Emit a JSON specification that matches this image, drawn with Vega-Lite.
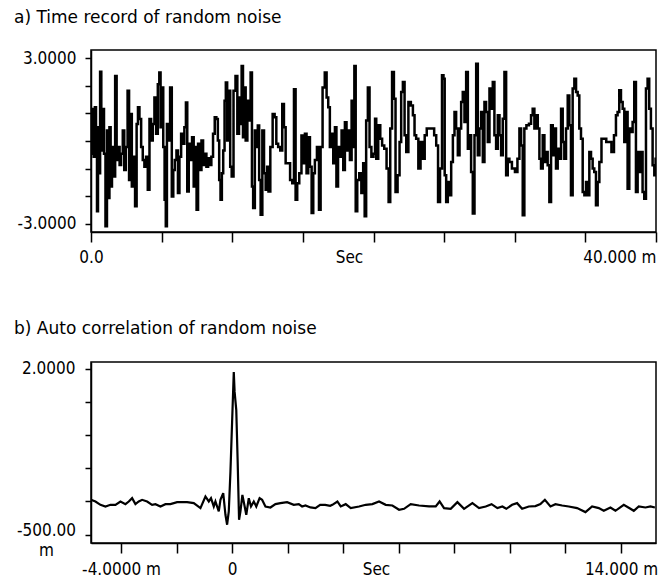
{
  "$schema": "https://vega.github.io/schema/vega-lite/v6.json",
  "background": "white",
  "padding": {"left": 13, "top": 8, "right": 5, "bottom": 5},
  "spacing": 52,
  "config": {
    "view": {"stroke": "black", "strokeWidth": 1.5},
    "axis": {
      "domainColor": "black", "domainWidth": 1.5, "tickColor": "black", "tickWidth": 1.5,
      "labelColor": "black", "titleColor": "black", "grid": false,
      "labelFont": "DejaVu Sans Condensed, Roboto, sans-serif", "labelFontSize": 17,
      "titleFont": "DejaVu Sans Condensed, Roboto, sans-serif", "titleFontSize": 17, "titleFontWeight": "normal",
      "labelOverlap": false, "labelFlush": false, "labelBound": false
    },
    "title": {"font": "DejaVu Sans", "fontSize": 17, "fontWeight": "normal", "anchor": "start", "frame": "group", "color": "black"}
  },
  "vconcat": [
    {
      "width": 565,
      "height": 182,
      "title": {"text": "a) Time record of random noise", "dx": -77, "offset": 22},
      "data": {"values": [
        {"t":0,"v":0.38},{"t":0.07,"v":-0.46},{"t":0.14,"v":1.16},{"t":0.24,"v":-0.57},{"t":0.31,"v":1.22},{"t":0.40,"v":-0.22},{"t":0.45,"v":-2.55},{"t":0.54,"v":0.50},{"t":0.61,"v":-1.17},{"t":0.68,"v":2.51},{"t":0.78,"v":-0.34},{"t":0.87,"v":1.16},{"t":0.97,"v":-0.46},{"t":1.08,"v":-3.09},{"t":1.18,"v":0.38},{"t":1.27,"v":-2.07},{"t":1.34,"v":0.50},{"t":1.44,"v":-1.65},{"t":1.53,"v":-0.22},{"t":1.65,"v":-1.29},{"t":1.77,"v":2.36},{"t":1.86,"v":-0.69},{"t":1.98,"v":-0.22},{"t":2.07,"v":-0.87},{"t":2.19,"v":-0.46},{"t":2.31,"v":0.38},{"t":2.40,"v":-1.05},{"t":2.52,"v":-0.22},{"t":2.66,"v":1.82},{"t":2.73,"v":-1.41},{"t":2.83,"v":0.98},{"t":2.95,"v":-1.65},{"t":3.06,"v":-0.57},{"t":3.18,"v":-2.37},{"t":3.28,"v":0.62},{"t":3.37,"v":1.22},{"t":3.49,"v":0.80},{"t":3.61,"v":-0.22},{"t":3.72,"v":-0.69},{"t":3.84,"v":-0.93},{"t":3.96,"v":-0.57},{"t":4.08,"v":-1.77},{"t":4.20,"v":0.80},{"t":4.31,"v":0.02},{"t":4.43,"v":0.62},{"t":4.55,"v":1.58},{"t":4.67,"v":0.26},{"t":4.79,"v":2.06},{"t":4.88,"v":2.48},{"t":4.97,"v":0.50},{"t":5.07,"v":1.94},{"t":5.16,"v":-0.22},{"t":5.26,"v":-2.13},{"t":5.33,"v":-3.09},{"t":5.42,"v":0.62},{"t":5.54,"v":0.02},{"t":5.66,"v":1.94},{"t":5.78,"v":-2.01},{"t":5.87,"v":-1.05},{"t":5.99,"v":-0.69},{"t":6.11,"v":-0.34},{"t":6.20,"v":-1.89},{"t":6.32,"v":-0.57},{"t":6.44,"v":0.26},{"t":6.55,"v":-0.10},{"t":6.67,"v":0.50},{"t":6.77,"v":1.40},{"t":6.86,"v":-1.83},{"t":6.98,"v":-0.10},{"t":7.10,"v":-0.69},{"t":7.21,"v":0.14},{"t":7.33,"v":-1.65},{"t":7.43,"v":-0.22},{"t":7.52,"v":-2.49},{"t":7.64,"v":-0.10},{"t":7.76,"v":-1.05},{"t":7.88,"v":0.02},{"t":7.99,"v":-0.87},{"t":8.11,"v":-0.46},{"t":8.23,"v":-0.93},{"t":8.35,"v":-0.63},{"t":8.46,"v":-0.87},{"t":8.58,"v":-0.57},{"t":8.70,"v":0.26},{"t":8.82,"v":0.86},{"t":8.93,"v":0.80},{"t":9.03,"v":0.02},{"t":9.12,"v":-1.41},{"t":9.22,"v":-2.13},{"t":9.31,"v":-1.17},{"t":9.41,"v":-0.34},{"t":9.50,"v":1.46},{"t":9.59,"v":2.12},{"t":9.69,"v":0.02},{"t":9.81,"v":1.82},{"t":9.90,"v":-0.93},{"t":10.02,"v":-1.29},{"t":10.16,"v":1.82},
        {"t":10.30,"v":2.36},{"t":10.42,"v":0.26},{"t":10.54,"v":1.58},{"t":10.63,"v":0.62},{"t":10.70,"v":2.72},{"t":10.82,"v":0.14},{"t":10.89,"v":1.94},{"t":11.01,"v":0.02},{"t":11.13,"v":1.46},{"t":11.24,"v":0.74},{"t":11.36,"v":2.48},{"t":11.43,"v":-1.65},{"t":11.53,"v":-2.43},{"t":11.67,"v":0.38},{"t":11.76,"v":-0.22},{"t":11.86,"v":0.56},{"t":11.95,"v":-1.41},{"t":12.07,"v":-2.67},{"t":12.19,"v":0.38},{"t":12.31,"v":-1.17},{"t":12.42,"v":-1.77},{"t":12.52,"v":-0.93},{"t":12.61,"v":-1.83},{"t":12.78,"v":-0.22},{"t":12.94,"v":0.98},{"t":13.06,"v":0.86},{"t":13.18,"v":-0.10},{"t":13.32,"v":-0.22},{"t":13.48,"v":-0.34},{"t":13.60,"v":1.34},{"t":13.72,"v":0.50},{"t":13.84,"v":-0.81},{"t":14.00,"v":-0.81},{"t":14.19,"v":-1.41},{"t":14.31,"v":-1.53},{"t":14.43,"v":1.88},{"t":14.54,"v":-2.13},{"t":14.66,"v":-1.53},{"t":14.83,"v":-1.17},{"t":14.97,"v":0.20},{"t":15.09,"v":-0.81},{"t":15.20,"v":0.26},{"t":15.32,"v":-1.17},{"t":15.44,"v":0.14},{"t":15.56,"v":-0.93},{"t":15.68,"v":-2.61},{"t":15.79,"v":-1.17},{"t":15.91,"v":-0.69},{"t":16.08,"v":-0.22},{"t":16.20,"v":-2.49},{"t":16.31,"v":-0.22},{"t":16.48,"v":1.94},{"t":16.62,"v":2.48},{"t":16.74,"v":1.58},{"t":16.85,"v":1.22},{"t":16.97,"v":-0.22},{"t":17.09,"v":0.26},{"t":17.21,"v":-0.81},{"t":17.33,"v":0.50},{"t":17.42,"v":-1.65},{"t":17.56,"v":-0.22},{"t":17.68,"v":-0.57},{"t":17.80,"v":0.38},{"t":17.92,"v":-1.05},{"t":18.03,"v":0.68},{"t":18.15,"v":-0.34},{"t":18.27,"v":0.38},{"t":18.39,"v":-0.69},{"t":18.51,"v":1.46},{"t":18.60,"v":-0.22},{"t":18.69,"v":2.72},{"t":18.79,"v":-2.55},{"t":18.91,"v":-1.41},{"t":19.07,"v":-1.17},{"t":19.21,"v":-1.89},{"t":19.33,"v":-0.81},{"t":19.42,"v":-2.73},{"t":19.54,"v":0.74},{"t":19.66,"v":1.94},{"t":19.78,"v":-0.22},{"t":19.92,"v":-0.57},{"t":20.08,"v":-0.46},
        {"t":20.14,"v":0.81},{"t":20.25,"v":-0.64},{"t":20.42,"v":0.57},{"t":20.54,"v":0.08},{"t":20.68,"v":-0.16},{"t":20.84,"v":-0.28},{"t":21.01,"v":-1.00},{"t":21.13,"v":-2.21},{"t":21.24,"v":0.45},{"t":21.39,"v":2.50},{"t":21.50,"v":1.53},{"t":21.62,"v":-1.85},{"t":21.79,"v":-1.24},{"t":21.90,"v":-0.04},{"t":22.02,"v":1.78},{"t":22.14,"v":2.14},{"t":22.26,"v":0.21},{"t":22.38,"v":-0.40},{"t":22.56,"v":1.41},{"t":22.73,"v":1.29},{"t":22.85,"v":0.93},{"t":22.96,"v":0.21},{"t":23.08,"v":0.08},{"t":23.27,"v":-1.00},{"t":23.39,"v":-0.04},{"t":23.55,"v":-0.64},{"t":23.70,"v":0.21},{"t":23.84,"v":0.45},{"t":24.03,"v":0.45},{"t":24.21,"v":0.45},{"t":24.38,"v":0.21},{"t":24.50,"v":-0.16},{"t":24.64,"v":-2.21},{"t":24.78,"v":-1.00},{"t":24.92,"v":2.38},{"t":24.99,"v":2.26},{"t":25.09,"v":-1.24},{"t":25.20,"v":-2.21},{"t":25.32,"v":-1.49},{"t":25.44,"v":-1.97},{"t":25.56,"v":-0.76},{"t":25.68,"v":0.21},{"t":25.79,"v":1.05},{"t":25.91,"v":0.45},{"t":26.03,"v":-0.52},{"t":26.15,"v":0.45},{"t":26.26,"v":1.41},{"t":26.38,"v":1.78},{"t":26.50,"v":0.69},{"t":26.62,"v":2.50},{"t":26.74,"v":-0.28},{"t":26.85,"v":0.21},{"t":26.97,"v":-1.12},{"t":27.09,"v":-2.63},{"t":27.21,"v":0.21},{"t":27.33,"v":2.80},{"t":27.44,"v":-0.52},{"t":27.56,"v":0.45},{"t":27.68,"v":1.05},{"t":27.80,"v":-0.76},{"t":27.91,"v":1.41},{"t":28.03,"v":1.05},{"t":28.15,"v":-0.04},{"t":28.27,"v":1.90},{"t":28.39,"v":1.17},{"t":28.50,"v":2.14},{"t":28.62,"v":0.21},{"t":28.74,"v":-0.28},{"t":28.86,"v":0.93},{"t":28.98,"v":0.21},{"t":29.09,"v":-0.52},{"t":29.21,"v":0.81},{"t":29.33,"v":2.50},{"t":29.45,"v":-1.24},{"t":29.56,"v":-0.64},{"t":29.68,"v":-0.76},{"t":29.92,"v":-1.00},{"t":30.11,"v":-1.12},{"t":30.27,"v":-0.64},{"t":30.39,"v":0.45},{"t":30.51,"v":-0.16},{"t":30.62,"v":-2.69},{"t":30.74,"v":0.45},{"t":30.91,"v":0.57},{"t":31.10,"v":0.63},{"t":31.21,"v":0.93},{"t":31.33,"v":1.17},{"t":31.45,"v":0.45},{"t":31.57,"v":0.93},{"t":31.69,"v":0.45},{"t":31.80,"v":-0.64},{"t":31.92,"v":-1.00},{"t":32.04,"v":0.21},{"t":32.16,"v":-0.76},{"t":32.27,"v":-0.40},{"t":32.39,"v":-0.88},{"t":32.51,"v":-2.21},{"t":32.63,"v":0.57},{"t":32.75,"v":-0.52},{"t":32.86,"v":0.45},{"t":32.98,"v":-1.00},{"t":33.10,"v":-0.28},{"t":33.22,"v":-0.64},{"t":33.34,"v":1.17},{"t":33.45,"v":-0.04},{"t":33.57,"v":-0.64},{"t":33.69,"v":0.45},{"t":33.81,"v":1.65},{"t":33.92,"v":0.57},{"t":34.04,"v":-1.97},{"t":34.16,"v":1.90},{"t":34.28,"v":2.26},{"t":34.40,"v":1.78},{"t":34.51,"v":1.65},{"t":34.63,"v":0.45},{"t":34.75,"v":0.08},{"t":34.87,"v":-1.85},{"t":34.99,"v":-1.97},{"t":35.10,"v":-1.49},{"t":35.22,"v":-1.97},{"t":35.34,"v":-0.40},{"t":35.46,"v":-0.64},{"t":35.57,"v":-1.00},{"t":35.69,"v":-1.12},{"t":35.81,"v":-2.33},{"t":35.93,"v":-1.49},{"t":36.05,"v":-0.76},{"t":36.23,"v":0.08},{"t":36.40,"v":0.08},{"t":36.56,"v":-0.04},{"t":36.75,"v":-0.04},{"t":36.94,"v":-0.40},{"t":37.11,"v":0.21},{"t":37.22,"v":0.93},{"t":37.34,"v":1.05},{"t":37.46,"v":1.84},{"t":37.58,"v":1.41},{"t":37.70,"v":1.17},{"t":37.81,"v":-0.04},{"t":37.93,"v":1.05},{"t":38.05,"v":-1.73},{"t":38.17,"v":0.45},{"t":38.29,"v":0.33},{"t":38.40,"v":0.69},{"t":38.52,"v":2.14},{"t":38.64,"v":-1.85},{"t":38.76,"v":-0.40},{"t":38.87,"v":-1.12},{"t":38.99,"v":-0.40},{"t":39.11,"v":-1.85},{"t":39.23,"v":-2.09},{"t":39.35,"v":1.90},{"t":39.46,"v":2.26},{"t":39.58,"v":1.17},{"t":39.70,"v":0.45},{"t":39.82,"v":-0.88},{"t":39.94,"v":-1.24},{"t":40.00,"v":-0.64}
      ]},
      "mark": {"type": "line", "color": "black", "strokeWidth": 2.5, "interpolate": "step", "clip": true},
      "encoding": {
        "x": {
          "field": "t", "type": "quantitative",
          "scale": {"domain": [0, 40], "nice": false, "zero": false},
          "axis": {
            "values": [0, 5, 10, 15, 20, 25, 30, 35, 40],
            "tickSize": 10, "labelPadding": 7,
            "labelExpr": "datum.value == 0 ? '0.0' : datum.value == 40 ? '40.000 m' : ''",
            "labelAlign": {"condition": {"test": "datum.value == 40", "value": "right"}, "value": "center"},
            "title": "Sec", "titleX": 258, "titleY": 17, "titleBaseline": "top"
          }
        },
        "y": {
          "field": "v", "type": "quantitative",
          "scale": {"domain": [-3.3, 3.3], "nice": false, "zero": false},
          "axis": {
            "values": [-3, -2, -1, 0, 1, 2, 3],
            "tickSize": 6, "labelPadding": 9,
            "labelExpr": "datum.value == 3 ? '3.0000' : datum.value == -3 ? '-3.0000' : ''",
            "title": null
          }
        }
      }
    },
    {
      "width": 565,
      "height": 181,
      "title": {"text": "b) Auto correlation of random noise", "dx": -77, "offset": 22},
      "data": {"values": [
        {"t":-5.08,"v":0.025},{"t":-4.92,"v":0},{"t":-4.74,"v":-0.05},{"t":-4.56,"v":-0.075},{"t":-4.38,"v":-0.05},{"t":-4.20,"v":-0.05},{"t":-4.02,"v":0},{"t":-3.84,"v":-0.04},{"t":-3.72,"v":0},{"t":-3.60,"v":0.05},{"t":-3.48,"v":-0.04},{"t":-3.36,"v":0},{"t":-3.24,"v":0.025},{"t":-3.06,"v":0},{"t":-2.88,"v":-0.05},{"t":-2.76,"v":-0.04},{"t":-2.58,"v":-0.075},{"t":-2.40,"v":-0.04},{"t":-2.22,"v":-0.04},{"t":-1.98,"v":-0.01},{"t":-1.62,"v":-0.01},{"t":-1.38,"v":-0.025},{"t":-1.14,"v":-0.10},{"t":-0.96,"v":0.075},{"t":-0.84,"v":0},{"t":-0.76,"v":0.05},{"t":-0.66,"v":-0.075},{"t":-0.60,"v":0},{"t":-0.48,"v":-0.15},{"t":-0.42,"v":0.025},{"t":-0.32,"v":0.125},{"t":-0.24,"v":-0.20},{"t":-0.18,"v":-0.35},{"t":-0.12,"v":-0.15},{"t":-0.06,"v":0.45},{"t":0.00,"v":1.20},{"t":0.06,"v":1.95},{"t":0.09,"v":1.65},{"t":0.15,"v":1.375},{"t":0.20,"v":0.60},{"t":0.25,"v":-0.275},{"t":0.30,"v":-0.15},{"t":0.37,"v":0.10},{"t":0.44,"v":-0.05},{"t":0.51,"v":-0.20},{"t":0.60,"v":0.05},{"t":0.68,"v":-0.075},{"t":0.78,"v":0},{"t":0.87,"v":-0.075},{"t":0.99,"v":0.05},{"t":1.08,"v":0.025},{"t":1.20,"v":-0.075},{"t":1.38,"v":-0.09},{"t":1.56,"v":-0.04},{"t":1.74,"v":-0.025},{"t":1.98,"v":-0.01},{"t":2.22,"v":-0.05},{"t":2.40,"v":-0.04},{"t":2.52,"v":-0.075},{"t":2.64,"v":-0.06},{"t":2.82,"v":-0.09},{"t":3.00,"v":-0.10},{"t":3.17,"v":-0.05},{"t":3.35,"v":-0.05},{"t":3.53,"v":-0.065},
        {"t":3.61,"v":-0.05},{"t":3.79,"v":0},{"t":3.91,"v":-0.075},{"t":4.09,"v":-0.04},{"t":4.27,"v":-0.10},{"t":4.57,"v":-0.075},{"t":4.81,"v":-0.05},{"t":5.05,"v":-0.04},{"t":5.29,"v":0},{"t":5.53,"v":-0.05},{"t":5.77,"v":-0.06},{"t":6.01,"v":-0.125},{"t":6.19,"v":-0.11},{"t":6.43,"v":-0.04},{"t":6.73,"v":-0.06},{"t":7.09,"v":-0.075},{"t":7.33,"v":-0.075},{"t":7.47,"v":0},{"t":7.63,"v":-0.10},{"t":7.87,"v":-0.11},{"t":8.11,"v":-0.01},{"t":8.35,"v":-0.11},{"t":8.65,"v":-0.025},{"t":8.89,"v":-0.10},{"t":9.13,"v":-0.075},{"t":9.34,"v":-0.04},{"t":9.55,"v":-0.10},{"t":9.73,"v":-0.075},{"t":9.87,"v":-0.11},{"t":10.08,"v":-0.05},{"t":10.26,"v":-0.025},{"t":10.44,"v":-0.11},{"t":10.68,"v":-0.075},{"t":10.92,"v":-0.07},{"t":11.10,"v":-0.04},{"t":11.26,"v":0.025},{"t":11.46,"v":-0.075},{"t":11.64,"v":-0.04},{"t":11.88,"v":-0.06},{"t":12.12,"v":-0.075},{"t":12.42,"v":-0.10},{"t":12.72,"v":-0.16},{"t":12.96,"v":-0.075},{"t":13.20,"v":-0.10},{"t":13.38,"v":-0.14},{"t":13.62,"v":-0.09},{"t":13.80,"v":-0.14},{"t":14.10,"v":-0.05},{"t":14.34,"v":-0.11},{"t":14.46,"v":-0.14},{"t":14.64,"v":-0.075},{"t":14.88,"v":-0.09},{"t":15.06,"v":-0.075},{"t":15.22,"v":-0.09}
      ]},
      "mark": {"type": "line", "color": "black", "strokeWidth": 2.2, "clip": true},
      "encoding": {
        "x": {
          "field": "t", "type": "quantitative",
          "scale": {"domain": [-5.08, 15.26], "nice": false, "zero": false},
          "axis": {
            "values": [-4, -2, 0, 2, 4, 6, 8, 10, 12, 14],
            "tickSize": 10, "labelPadding": 8,
            "labelExpr": "datum.value == -4 ? '-4.0000 m' : datum.value == 0 ? '0' : datum.value == 14 ? '14.000 m' : ''",
            "title": "Sec", "titleX": 285, "titleY": 18, "titleBaseline": "top"
          }
        },
        "y": {
          "field": "v", "type": "quantitative",
          "scale": {"domain": [-0.625, 2.1], "nice": false, "zero": false},
          "axis": {
            "values": [-0.5, 0, 0.5, 1, 1.5, 2],
            "tickSize": 6,
            "labelPadding": {"condition": {"test": "datum.value == -0.5", "value": 39}, "value": 10},
            "labelAlign": {"condition": {"test": "datum.value == -0.5", "value": "center"}, "value": "right"},
            "labelOffset": {"condition": {"test": "datum.value == -0.5", "value": -4}, "value": 0},
            "labelLineHeight": 20,
            "labelExpr": "datum.value == 2 ? '2.0000' : datum.value == -0.5 ? ['-500.00', 'm'] : ''",
            "title": null
          }
        }
      }
    }
  ]
}
